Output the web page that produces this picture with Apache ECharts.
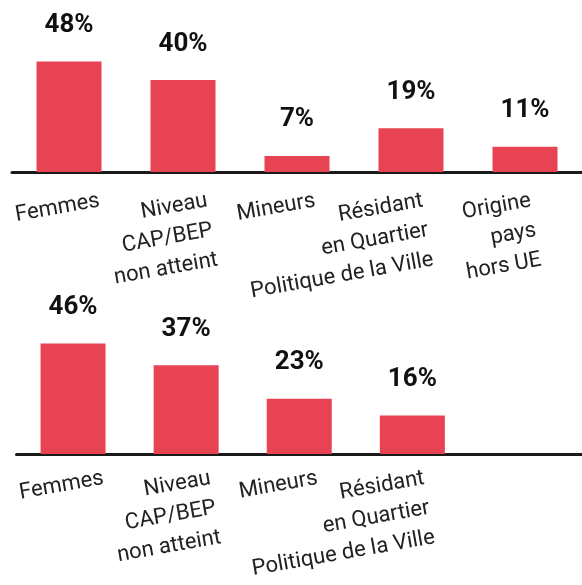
<!DOCTYPE html>
<html>
<head>
<meta charset="utf-8">
<script src="https://cdn.jsdelivr.net/npm/echarts@6/dist/echarts.min.js"></script>
<style>
  html, body { margin: 0; padding: 0; background: #fff; }
  #chart { width: 582px; height: 585px; }
</style>
</head>
<body>
<div id="chart"></div>
<script>
// catégories et valeurs (%)
const categoriesTop = [
  "Femmes",
  "Niveau\nCAP/BEP\nnon atteint",
  "Mineurs",
  "Résidant\nen Quartier\nPolitique de la Ville",
  "Origine\npays\nhors UE"
];
const valuesTop = [48, 40, 7, 19, 11];

const categoriesBottom = [
  "Femmes",
  "Niveau\nCAP/BEP\nnon atteint",
  "Mineurs",
  "Résidant\nen Quartier\nPolitique de la Ville"
];
const valuesBottom = [46, 37, 23, 16];

const barColor = "#e84353";
const transparent = "rgba(0,0,0,0)";

// axe des barres : ligne noire, pas de libellés
function barAxis(gridIndex, data) {
  return {
    type: "category",
    gridIndex: gridIndex,
    data: data,
    axisLine: { lineStyle: { color: "#1a1a1a", width: 3 } },
    axisTick: { show: false },
    axisLabel: { show: false }
  };
}

// axe des libellés, décalé vers la droite, libellés inclinés
function labelAxis(gridIndex, data) {
  return {
    type: "category",
    gridIndex: gridIndex,
    data: data,
    axisLine: { lineStyle: { color: transparent } },
    axisTick: { lineStyle: { color: transparent } },
    axisLabel: {
      interval: 0,
      rotate: 10,
      align: "right",
      verticalAlign: "top",
      margin: 14,
      fontFamily: "Roboto",
      fontSize: 22,
      lineHeight: 30,
      color: "#222"
    }
  };
}

function valueAxis(gridIndex) {
  return { type: "value", gridIndex: gridIndex, min: 0, max: 50, show: false };
}

function barSeries(index, data) {
  return {
    type: "bar",
    xAxisIndex: index,
    yAxisIndex: index,
    data: data,
    barWidth: 65,
    itemStyle: { color: barColor },
    label: {
      show: true,
      position: "top",
      distance: 23,
      formatter: "{c}%",
      fontFamily: "Roboto",
      fontWeight: "bold",
      fontSize: 26,
      color: "#111"
    }
  };
}

const bottomSlots = categoriesBottom.concat([""]); // 5e case vide

const chart = echarts.init(document.getElementById("chart"));

chart.setOption({
  animation: false,
  grid: [
    { left: 12, width: 580, top: 57, height: 115 },
    { left: 16.5, width: 580, top: 334, height: 120 },
    { left: 43, width: 580, top: 57, height: 115 },
    { left: 47.5, width: 580, top: 334, height: 120 }
  ],
  xAxis: [
    barAxis(0, categoriesTop),
    barAxis(1, bottomSlots),
    labelAxis(2, categoriesTop),
    labelAxis(3, bottomSlots)
  ],
  yAxis: [valueAxis(0), valueAxis(1), valueAxis(2), valueAxis(3)],
  series: [barSeries(0, valuesTop), barSeries(1, valuesBottom)]
});
</script>
</body>
</html>
